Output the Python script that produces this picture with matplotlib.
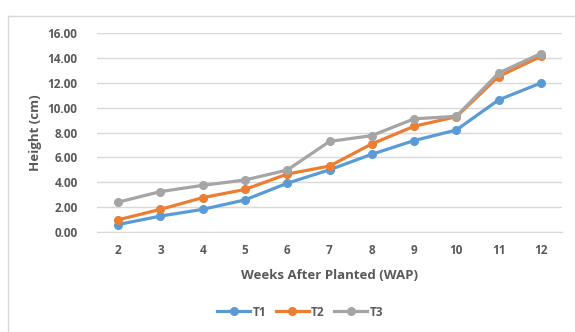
import matplotlib
matplotlib.use("Agg")
import matplotlib.pyplot as plt
from matplotlib.lines import Line2D

weeks = [2, 3, 4, 5, 6, 7, 8, 9, 10, 11, 12]
t1 = [0.60, 1.28, 1.82, 2.58, 3.92, 5.00, 6.25, 7.35, 8.20, 10.62, 11.98]
t2 = [0.98, 1.82, 2.76, 3.42, 4.66, 5.30, 7.08, 8.50, 9.27, 12.50, 14.12]
t3 = [2.40, 3.25, 3.75, 4.18, 4.98, 7.28, 7.75, 9.10, 9.30, 12.78, 14.35]
series = [("T1", t1, "#5B9BD5"), ("T2", t2, "#ED7D31"), ("T3", t3, "#A5A5A5")]
yticks = [0, 2, 4, 6, 8, 10, 12, 14, 16]

plt.rcParams['font.family'] = ['Open Sans', 'DejaVu Sans']
txt = "#595959"

fig = plt.figure(figsize=(5.75, 3.32), dpi=100)
W, H = 575, 332
ax = fig.add_axes([97 / W, 1 - 232 / H, (562 - 97) / W, (232 - 33) / H])

pos = list(range(len(weeks)))
for name, vals, c in series:
    ax.plot(pos, vals, color=c, lw=2.3, marker='o', ms=5.5, label=name,
            solid_capstyle='round', zorder=3)

ax.set_xlim(-0.5, len(weeks) - 0.5)
ax.set_ylim(0, 16)
ax.set_yticks(yticks)
ax.set_yticklabels([f"{v:.2f}" for v in yticks], fontsize=8.5, fontweight='bold', color=txt)
ax.set_xticks(pos)
ax.set_xticklabels([str(w) for w in weeks], fontsize=8.5, fontweight='bold', color=txt)
ax.tick_params(length=0, pad=9)
ax.tick_params(axis='y', pad=14)
ax.grid(axis='y', color='#D9D9D9', lw=1)
ax.set_axisbelow(True)
for s in ['top', 'right', 'left']:
    ax.spines[s].set_visible(False)
ax.spines['bottom'].set_color('#D9D9D9')

ax.set_xlabel("Weeks After Planted (WAP)", fontsize=9.5, fontweight='bold', color=txt, labelpad=8)
ax.set_ylabel("Height (cm)", fontsize=9.5, fontweight='bold', color=txt, labelpad=4)

handles = [Line2D([0], [0], color=c, lw=2.3, marker='o', ms=5.5) for _, _, c in series]
leg = fig.legend(handles, [s[0] for s in series], loc='center', bbox_to_anchor=(300 / W, 1 - 312 / H),
                 ncol=3, frameon=False, fontsize=8.5, handlelength=2.8, columnspacing=0.8,
                 handletextpad=0.2)
for t in leg.get_texts():
    t.set_color(txt)
    t.set_fontweight('bold')

# chart border (top and left visible)
fig.add_artist(Line2D([8 / W, 8 / W], [0, 1 - 16 / H], color='#D9D9D9', lw=1, transform=fig.transFigure))
fig.add_artist(Line2D([8 / W, 1], [1 - 16 / H, 1 - 16 / H], color='#D9D9D9', lw=1, transform=fig.transFigure))

fig.savefig("out.png", dpi=100)
